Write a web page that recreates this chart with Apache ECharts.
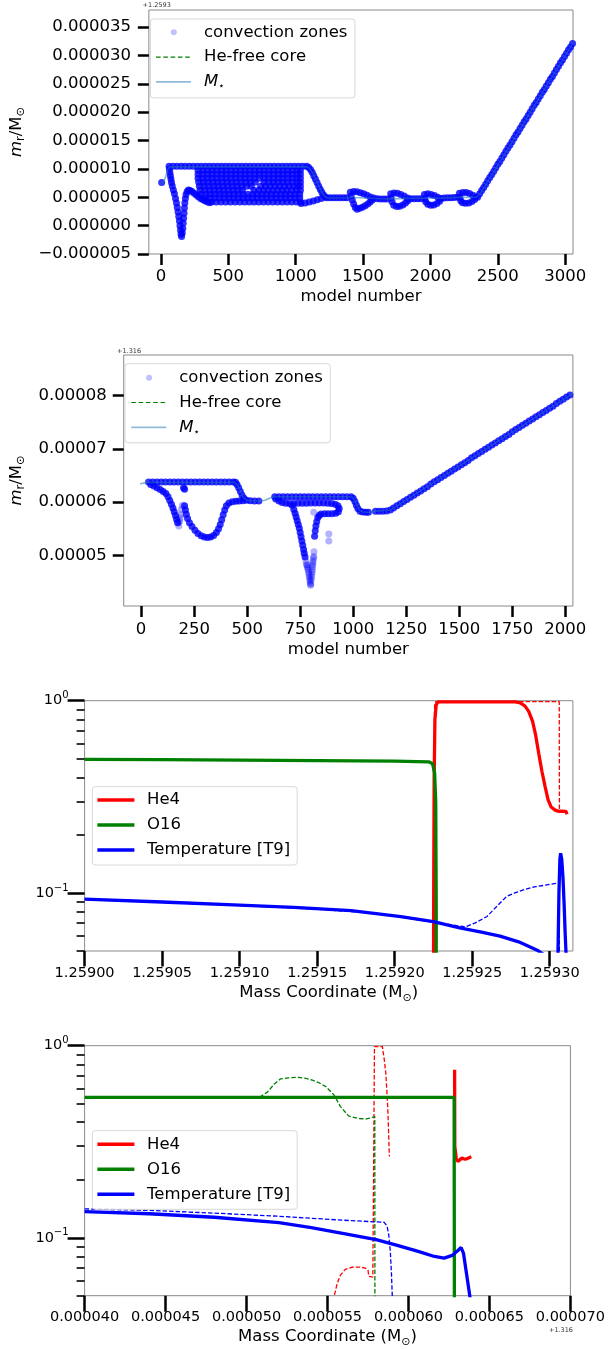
<!DOCTYPE html>
<html>
<head>
<meta charset="utf-8">
<script src="https://cdn.jsdelivr.net/npm/echarts@6/dist/echarts.min.js"></script>
<style>
  html, body { margin: 0; padding: 0; background: #fff; }
  #chart { width: 608px; height: 1349px; }
</style>
</head>
<body>
<div id="chart"></div>
<script>
// ---- tick values (mass values are offsets in 1e-6 Msun) ----
const modelTicks1 = [0, 500, 1000, 1500, 2000, 2500, 3000];
const massTicks1 = [-5, 0, 5, 10, 15, 20, 25, 30, 35];          // + 1.2593
const modelTicks2 = [0, 250, 500, 750, 1000, 1250, 1500, 1750, 2000];
const massTicks2 = [50, 60, 70, 80];                             // + 1.316
const coordTicks3 = [0, 50, 100, 150, 200, 250, 300];            // + 1.259
const coordTicks4 = [40, 45, 50, 55, 60, 65, 70];                // + 1.316
const logMajor = [0.1, 1];
const logMinor = [0.05, 0.06, 0.07, 0.08, 0.09, 0.2, 0.3, 0.4, 0.5, 0.6, 0.7, 0.8, 0.9];

// ---- panel 1: convection zones (model number, m_r - 1.2593 in 1e-6) ----
const c1Start = [[5, 7.6]];
const c1Left = [[62,10.0],[66,9.4],[70,8.8],[74,8.2],[78,7.6],[84,7.0],[92,6.3],[100,5.6],[108,4.8],[115,4.0],
  [121,3.2],[127,2.4],[132,1.6],[137,0.8],[141,0.0],[145,-0.8],[149,-1.5],[153,-1.9],[158,-1.3],[162,-0.5],
  [165,0.4],[168,1.3],[171,2.2],[174,3.1],[177,4.0],[181,4.8],[186,5.5],[194,6.0],[204,6.3],[216,6.2],
  [230,6.0],[246,5.7],[262,5.4],[278,5.1],[294,4.8],[310,4.6],[326,4.4],[342,4.2],[360,4.05]];
const c1Top = [[60,10.45],[90,10.45],[120,10.45],[150,10.45],[180,10.45],[210,10.45],[240,10.45],[270,10.45],
  [300,10.45],[330,10.45],[360,10.45],[390,10.45],[420,10.45],[450,10.45],[480,10.45],[510,10.45],[540,10.45],
  [570,10.45],[600,10.45],[630,10.45],[660,10.45],[690,10.45],[720,10.45],[750,10.45],[780,10.45],[810,10.45],
  [840,10.45],[870,10.45],[900,10.45],[930,10.45],[960,10.45],[990,10.45],[1020,10.45],[1050,10.45],[1080,10.45]];
const c1BlockY = [9.75, 9.05, 8.35, 7.65, 6.95, 6.25, 5.55, 4.85, 4.15];
const c1BlockX = [
  [275,310,345,380,415,450,485,520,555,590,625,660,695,730,765,800,835,870,905,940,975,1010,1035],
  [275,310,345,380,415,450,485,520,555,590,625,660,695,730,765,800,835,870,905,940,975,1010,1035],
  [275,310,345,380,415,450,485,520,555,590,625,660,695,730,765,800,835,870,905,940,975,1010,1035],
  [280,315,350,385,420,455,490,525,560,595,630,665,700,765,800,835,870,905,940,975,1010,1035],
  [285,320,355,390,425,460,495,530,565,600,635,670,740,775,810,845,880,915,950,985,1015,1035],
  [290,325,360,395,430,465,500,535,570,605,690,725,760,795,830,865,900,935,970,1005,1035],
  [295,330,365,400,435,470,505,540,575,610,645,680,715,750,785,820,855,890,925,960,995,1030],
  [330,365,400,435,470,505,540,575,610,645,680,715,750,785,820,855,890,925,960,995,1030],
  [375,410,445,480,515,550,585,620,655,690,725,760,795,830,865,900,935,970,1005,1035]
];
const c1Right = [[1095,10.3],[1110,9.9],[1122,9.4],[1134,8.8],[1146,8.2],[1158,7.6],[1170,7.0],[1182,6.4],
  [1194,5.9],[1206,5.4],[1220,5.05],
  [1040,3.9],[1070,4.0],[1100,4.15],[1130,4.35],[1160,4.55],[1190,4.8]];
const c1Loops = [[1230,4.9],[1255,4.9],[1280,4.9],[1305,4.9],[1330,4.9],[1355,4.9],[1380,4.9],
  [1405,5.9],[1430,6.0],[1455,5.95],[1480,5.8],[1505,5.6],[1530,5.35],[1555,5.05],[1580,4.85],
  [1412,5.2],[1420,4.5],[1430,3.8],[1442,3.2],[1456,2.9],
  [1475,3.05],[1495,3.25],[1515,3.5],[1535,3.8],[1552,4.15],[1568,4.5],
  [1605,4.75],[1630,4.7],[1655,4.7],[1680,4.7],
  [1705,5.6],[1730,5.75],[1755,5.7],[1780,5.5],[1805,5.2],[1830,4.85],
  [1708,4.9],[1715,4.2],[1728,3.6],[1750,3.35],[1772,3.4],[1795,3.65],[1815,4.0],[1832,4.4],
  [1855,4.75],[1880,4.75],[1905,4.75],[1930,4.75],
  [1955,5.5],[1980,5.6],[2005,5.5],[2030,5.3],[2055,5.0],[2078,4.8],
  [1958,4.8],[1965,4.2],[1980,3.75],[2002,3.6],[2025,3.65],[2048,3.9],[2068,4.3],
  [2100,4.85],[2125,4.9],[2150,4.9],[2175,4.95],[2200,5.0],
  [2215,5.7],[2240,5.85],[2265,5.85],[2290,5.65],[2315,5.35],[2338,5.05],
  [2218,5.0],[2225,4.4],[2238,4.05],[2260,3.95],[2285,4.0],[2308,4.25],[2328,4.6]];
const c1Ramp = [[2350,5.0],[2365,5.6],[2380,6.2],[2395,6.7],[2410,7.3],[2425,7.9],[2440,8.5],[2455,9.0],
  [2470,9.6],[2485,10.2],[2500,10.8],[2515,11.3],[2530,11.9],[2545,12.5],[2560,13.1],[2575,13.7],[2590,14.2],
  [2605,14.8],[2620,15.4],[2635,16.0],[2650,16.5],[2665,17.1],[2680,17.7],[2695,18.3],[2710,18.8],[2725,19.4],
  [2740,20.0],[2755,20.6],[2770,21.2],[2785,21.7],[2800,22.3],[2815,22.9],[2830,23.5],[2845,24.0],[2860,24.6],
  [2875,25.2],[2890,25.8],[2905,26.3],[2920,26.9],[2935,27.5],[2950,28.1],[2965,28.7],[2980,29.2],[2995,29.8],
  [3010,30.4],[3025,31.0],[3040,31.5],[3055,32.1]];
const mStar1 = [[0,7.5],[20,7.7],[35,8.6],[48,9.8],[62,10.35],[1085,10.35],[1105,10.05],[1125,9.3],[1150,8.1],
  [1175,6.8],[1198,5.7],[1218,5.05],[1240,4.88],[1400,4.9],[1420,5.1],[1440,4.95],[1600,4.78],[1700,4.72],
  [1830,4.8],[1960,4.82],[2080,4.85],[2200,4.98],[2340,5.0],[2372,5.7],[3060,32.3]];

// ---- panel 2: convection zones (model number, m_r - 1.316 in 1e-6) ----
const c2ZoneA = [[35,63.75],[55,63.75],[75,63.75],[95,63.75],[115,63.75],[135,63.75],[155,63.75],[175,63.75],
  [195,63.75],[215,63.75],[235,63.75],[255,63.75],[275,63.75],[295,63.75],[315,63.75],[335,63.75],[355,63.75],
  [375,63.75],[395,63.75],[415,63.75],[435,63.75],[445,63.7],
  [452,63.3],[460,62.7],[468,62.0],[476,61.3],[485,60.7],[497,60.35],[515,60.25],[535,60.2],[555,60.2],
  [45,63.3],[60,63.0],[75,62.7],[90,62.35],[104,62.0],[117,61.6],[127,61.0],[135,60.3],[143,59.6],[150,58.9],
  [156,58.2],[162,57.5],[167,56.8],[172,56.1],
  [200,62.7],[205,62.4],
  [205,59.3],[209,58.5],[213,57.7],[219,56.9],[228,56.1],[240,55.4],[254,54.7],[268,54.1],[283,53.7],
  [298,53.45],[313,53.35],[328,53.45],[342,53.75],[355,54.3],[365,55.0],[373,55.8],[380,56.7],[387,57.6],
  [394,58.5],[402,59.3],[414,59.85],[430,60.05],[447,60.15],[463,60.2],[480,60.25]];
const c2ZoneB = [[630,61.0],[650,61.0],[670,61.0],[690,61.0],[710,61.0],[730,61.0],[750,61.0],[770,61.0],
  [790,61.0],[810,61.0],[830,61.0],[850,61.0],[870,61.0],[890,61.0],[910,61.0],[930,61.0],[950,61.0],
  [970,61.0],[990,61.0],
  [1000,60.7],[1008,60.1],[1015,59.4],[1022,58.8],[1032,58.3],[1045,58.15],[1060,58.1],[1072,58.1],
  [635,60.6],[650,60.2],[665,59.9],[682,59.8],[700,59.75],[720,59.75],[740,59.8],[760,59.8],[780,59.8],
  [800,59.85],[820,59.85],[840,59.85],[860,59.85],[880,59.8],[898,59.75],[915,59.6],[928,59.3],[934,58.8],
  [930,58.2],[918,57.9],[900,57.8],[882,57.8],[865,57.8],[848,57.75],
  [712,59.4],[720,58.6],[726,57.9],[731,57.2],[736,56.5],[741,55.8],[746,55.1],[750,54.3],[754,53.5],
  [758,52.7],[762,51.9],[766,51.1],[769,50.4],[773,49.7],
  [818,53.6],[821,54.6],[824,55.5],[828,56.3],[833,57.1],[840,57.5],
  [1105,58.3],[1122,58.3],[1140,58.3],[1158,58.35],[1175,58.5]];
const c2Light = [[178,55.5],[182,56.4],[186,57.6],[190,58.6],[195,59.4],[176,56.2],[184,57.0],
  [777,48.9],[780,48.3],[782,48.2],[784,47.8],[786,47.6],[788,47.2],[790,46.8],[792,46.4],[793,46.0],
  [795,45.6],[796,45.2],[798,44.8],[799,44.4],[800,44.6],
  [802,45.4],[804,45.9],[805,46.4],[806,46.9],[807,47.3],[808,47.8],[809,48.2],[810,48.6],[811,49.0],[813,49.5],[814,49.8],
  [814,58.1],[815,50.7],[885,54.0],[885,52.7]];
const c2Ramp = [[1190,58.9],[1206,59.3],[1222,59.7],[1238,60.1],[1254,60.5],[1270,60.9],[1286,61.3],[1302,61.7],
  [1318,62.1],[1334,62.5],[1350,62.9],[1366,63.4],[1382,63.8],[1398,64.2],[1414,64.6],[1430,65.0],[1446,65.4],
  [1462,65.8],[1478,66.2],[1494,66.6],[1510,67.0],[1526,67.4],[1542,67.8],[1558,68.3],[1574,68.7],[1590,69.1],
  [1606,69.5],[1622,69.9],[1638,70.3],[1654,70.7],[1670,71.1],[1686,71.5],[1702,71.9],[1718,72.3],[1734,72.7],
  [1750,73.2],[1766,73.6],[1782,74.0],[1798,74.4],[1814,74.8],[1830,75.2],[1846,75.6],[1862,76.0],[1878,76.4],
  [1894,76.8],[1910,77.2],[1926,77.6],[1942,78.0],[1958,78.5],[1974,78.9],[1990,79.3],[2006,79.7],[2022,80.1],
  [2038,80.5]];
const mStar2 = [[-5,63.45],[30,63.7],[440,63.7],[455,63.2],[468,62.2],[480,61.0],[495,60.4],[515,60.25],
  [560,60.2],[585,60.35],[610,60.8],[630,61.0],[990,61.0],[1005,60.5],[1018,59.4],[1030,58.5],[1045,58.15],
  [1075,58.1],[1090,58.2],[1105,58.3],[1175,58.5],[2038,80.45]];

// ---- panel 3: profiles (mass - 1.259 in 1e-6, abundance / T9) ----
const he4Solid3 = [[225.0,0.02],[225.2,0.1],[225.5,0.4],[226.0,0.8],[226.8,0.95],[228,0.985],[278,0.985],
  [281,0.975],[284,0.94],[286.5,0.88],[289,0.78],[291,0.66],[293,0.53],[295,0.43],[297,0.36],[299,0.305],
  [301,0.28],[303.5,0.27],[306,0.266],[308,0.267],[310.5,0.266],[311.2,0.257]];
const he4Dash3 = [[224.8,0.02],[225.2,0.3],[225.8,0.95],[226.6,0.99],[306.2,0.99],[306.3,0.27],[308,0.267],[311,0.266]];
const o16Solid3 = [[0,0.496],[50,0.494],[100,0.491],[150,0.488],[200,0.485],[222,0.481],[224.5,0.47],
  [225.8,0.42],[226.5,0.3],[226.8,0.1],[226.9,0.02]];
const tempSolid3 = [[0,0.093],[50,0.0899],[96,0.0869],[135,0.0843],[172,0.081],[204,0.0755],[225,0.071],
  [242,0.066],[256,0.0627],[268,0.0597],[280,0.0558],[292,0.0505],[296,0.048],[305,0.03],
  [305.4,0.05],[306,0.1],[306.6,0.15],[307.1,0.161],[307.8,0.15],[308.6,0.12],[309.4,0.085],[310,0.062],
  [310.5,0.05],[310.8,0.04]];
const tempDash3 = [[0,0.0928],[50,0.0896],[100,0.0862],[150,0.0825],[190,0.0782],[225,0.0705],[245.8,0.0668],
  [252,0.070],[259.6,0.0756],[266,0.0855],[272.2,0.096],[278,0.1005],[284.8,0.105],[291,0.108],[297.4,0.110],
  [306.2,0.113],[306.3,0.04]];

// ---- panel 4: profiles (mass - 1.316 in 1e-6) ----
const he4Solid4 = [[62.85,0.75],[62.86,0.3],[62.95,0.258],[63.05,0.25],[63.16,0.252],[63.3,0.26],
  [63.45,0.257],[63.6,0.258],[63.88,0.264]];
const he4Dash4 = [[55.3,0.04],[55.42,0.05],[55.6,0.058],[55.8,0.064],[56.1,0.0685],[56.5,0.0703],[57.0,0.0705],
  [57.35,0.0695],[57.5,0.068],[57.55,0.063],[57.8,0.0625],[57.88,0.064],[57.9,0.99],[58.39,0.99],[58.51,0.84],
  [58.6,0.72],[58.66,0.59],[58.72,0.48],[58.76,0.38],[58.82,0.265]];
const o16Solid4 = [[40,0.539],[62.82,0.539],[62.84,0.02]];
const o16Dash4 = [[50.8,0.539],[51.3,0.575],[51.7,0.63],[52.1,0.672],[52.6,0.68],[53.2,0.685],[53.6,0.678],
  [54.05,0.663],[54.5,0.64],[54.9,0.612],[55.4,0.554],[55.8,0.482],[56.3,0.431],[56.9,0.418],[57.4,0.416],
  [57.7,0.422],[57.92,0.428],[57.93,0.02]];
const tempSolid4 = [[40,0.137],[44,0.1335],[48,0.128],[52,0.12],[54,0.113],[56.1,0.105],[58,0.098],[59.2,0.092],
  [60.6,0.085],[61.6,0.080],[62.2,0.0785],[62.7,0.081],[63.05,0.086],[63.25,0.089],[63.4,0.083],[63.55,0.068],
  [63.7,0.056],[63.8,0.049],[63.85,0.04]];
const tempDash4 = [[40,0.1415],[44,0.139],[48,0.1345],[52,0.1295],[56,0.1235],[58.5,0.1205],[58.68,0.115],
  [58.78,0.104],[58.88,0.085],[58.95,0.065],[59.0,0.05],[59.05,0.04]];

// ---------------------------------------------------------------
const FONT = 'DejaVu Sans';
const BLACK = '#000';
const FRAME = '#8a8a8a';

let c1Block = [];
c1BlockY.forEach((y, i) => c1BlockX[i].forEach((x) => c1Block.push([x, y])));

function grid(left, top, width, height) {
  return { left, top, width, height, show: true, borderColor: FRAME, borderWidth: 1 };
}

function valueAxis(gi, min, max, ticks, fmt, fontSize, margin, tickLen) {
  return {
    gridIndex: gi, type: 'value', min, max,
    axisLine: { show: false, onZero: false }, splitLine: { show: false },
    axisTick: { customValues: ticks, length: tickLen, lineStyle: { color: BLACK, width: 2.5 } },
    axisLabel: { customValues: ticks, formatter: fmt, fontSize, margin, color: BLACK, fontFamily: FONT },
  };
}

const mrName = '{i|m}{s|r}{n|/M}{s|⊙}';
const mrStyle = {
  color: BLACK, fontFamily: FONT, fontSize: 16.5,
  rich: {
    i: { fontStyle: 'italic', fontSize: 16.5, lineHeight: 22, fontFamily: FONT, color: BLACK },
    n: { fontSize: 16.5, lineHeight: 22, fontFamily: FONT, color: BLACK },
    s: { fontSize: 11.5, lineHeight: 14, verticalAlign: 'bottom', fontFamily: FONT, color: BLACK },
  },
};
const massName = 'Mass Coordinate (M{s|⊙})';
const massStyle = {
  color: BLACK, fontFamily: FONT, fontSize: 16.5, lineHeight: 22,
  rich: { s: { fontSize: 11, lineHeight: 12, verticalAlign: 'bottom', fontFamily: FONT, color: BLACK } },
};

function logAxes(gi) {
  const major = {
    gridIndex: gi, type: 'log', logBase: 10, min: 0.05, max: 1, position: 'left',
    axisLine: { show: false, onZero: false }, splitLine: { show: false },
    axisTick: { customValues: logMajor, length: 17, lineStyle: { color: BLACK, width: 2.5 } },
    axisLabel: {
      customValues: logMajor, margin: 16,
      formatter: (v) => '{b|10}{e|' + (Math.round(Math.log10(v)) === 0 ? '0' : '\u22121') + '}',
      rich: {
        b: { fontSize: 14.5, lineHeight: 20, fontFamily: FONT, color: BLACK },
        e: { fontSize: 10, lineHeight: 10, verticalAlign: 'top', fontFamily: FONT, color: BLACK },
      },
    },
  };
  const minor = {
    gridIndex: gi, type: 'log', logBase: 10, min: 0.05, max: 1, position: 'left', offset: 0,
    axisLine: { show: false, onZero: false }, splitLine: { show: false }, axisLabel: { show: false },
    axisTick: { customValues: logMinor, length: 8, lineStyle: { color: BLACK, width: 1.6 } },
  };
  return [major, minor];
}

const ICON_DOT = 'path://M0 0M43 20M14.8 10A3 3 0 1 0 20.8 10A3 3 0 1 0 14.8 10Z';
const ICON_DASH = 'path://M0 0M43 20M0 9.4h4.6v1.2h-4.6z M7.3 9.4h4.6v1.2h-4.6z M14.6 9.4h4.6v1.2h-4.6z M21.9 9.4h4.6v1.2h-4.6z M29.2 9.4h4.6v1.2h-4.6z';
const ICON_LINE = 'path://M0 0M43 20M0 9.1h35v1.8h-35z';
const ICON_THICK = 'path://M0 0M44.6 20M0 8.25h37v3.5h-37z';

function legendTop(left, top, padding) {
  return {
    left, top, orient: 'vertical', itemWidth: 43, itemHeight: 20, itemGap: 4.8, padding,
    backgroundColor: 'rgba(255,255,255,0.8)', borderColor: '#d8d8d8', borderWidth: 1, borderRadius: 3,
    selectedMode: false,
    formatter: (name) => (name === 'Mstar' ? '{i|M}{s|⋆}' : name),
    textStyle: {
      fontSize: 16.5, color: BLACK, fontFamily: FONT,
      rich: {
        i: { fontStyle: 'italic', fontSize: 16.5, lineHeight: 20, fontFamily: FONT, color: BLACK },
        s: { fontSize: 10, lineHeight: 12, verticalAlign: 'bottom', fontFamily: FONT, color: BLACK },
      },
    },
    data: [
      { name: 'convection zones', icon: ICON_DOT, itemStyle: { color: 'rgba(0,0,255,0.3)', borderWidth: 0 } },
      { name: 'He-free core', icon: ICON_DASH, itemStyle: { color: '#008000', borderWidth: 0 } },
      { name: 'Mstar', icon: ICON_LINE, itemStyle: { color: '#8fbbd9', borderWidth: 0 } },
    ],
  };
}

function legendBottom(left, top, padding) {
  return {
    left, top, orient: 'vertical', itemWidth: 44.6, itemHeight: 20, itemGap: 5, padding,
    backgroundColor: 'rgba(255,255,255,0.8)', borderColor: '#d8d8d8', borderWidth: 1, borderRadius: 3,
    selectedMode: false,
    textStyle: { fontSize: 16.5, color: BLACK, fontFamily: FONT },
    data: [
      { name: 'He4', icon: ICON_THICK, itemStyle: { color: '#ff0000', borderWidth: 0 } },
      { name: 'O16', icon: ICON_THICK, itemStyle: { color: '#008000', borderWidth: 0 } },
      { name: 'Temperature [T9]', icon: ICON_THICK, itemStyle: { color: '#0000ff', borderWidth: 0 } },
    ],
  };
}

function dots(data, xi, yi, opacity) {
  return {
    type: 'scatter', name: 'convection zones', xAxisIndex: xi, yAxisIndex: yi, data,
    symbolSize: 7, itemStyle: { color: '#0000ff', opacity }, z: 2, silent: true,
  };
}

function line(name, data, xi, yi, color, width, dashed, z) {
  return {
    type: 'line', name, xAxisIndex: xi, yAxisIndex: yi, data, symbol: 'none', silent: true,
    lineStyle: { color, width, type: dashed ? [4.5, 2] : 'solid', opacity: 1 },
    itemStyle: { color }, z,
  };
}

const chart = echarts.init(document.getElementById('chart'), null, { renderer: 'canvas' });

chart.setOption({
  animation: false,
  backgroundColor: '#fff',
  textStyle: { fontFamily: FONT },
  grid: [
    grid(142.6, 10, 430.4, 244),
    grid(116.5, 355, 456.4, 251),
    grid(84.6, 700.7, 488.3, 250.3),
    grid(84.6, 1045.7, 488.3, 250),
  ],
  xAxis: [
    Object.assign(valueAxis(0, -90, 3058, modelTicks1, (v) => String(v), 16.5, 14.5, 11), {
      name: 'model number', nameLocation: 'middle', nameGap: 31.7,
      nameTextStyle: { fontSize: 16.5, color: BLACK, fontFamily: FONT, lineHeight: 20 },
    }),
    Object.assign(valueAxis(1, -82, 2036, modelTicks2, (v) => String(v), 16.5, 15.5, 11), {
      name: 'model number', nameLocation: 'middle', nameGap: 33.3,
      nameTextStyle: { fontSize: 16.5, color: BLACK, fontFamily: FONT, lineHeight: 20 },
    }),
    Object.assign(valueAxis(2, 0, 315, coordTicks3, (v) => (1.259 + v * 1e-6).toFixed(5), 14.5, 15, 15.5), {
      name: massName, nameLocation: 'middle', nameGap: 29.7, nameTextStyle: massStyle,
    }),
    Object.assign(valueAxis(3, 40, 70, coordTicks4, (v) => (v * 1e-6).toFixed(6), 14.5, 14.3, 16), {
      name: massName, nameLocation: 'middle', nameGap: 28.3, nameTextStyle: massStyle,
    }),
  ],
  yAxis: [
    Object.assign(valueAxis(0, -5, 38, massTicks1, (v) => (v * 1e-6).toFixed(6).replace('-', '\u2212'), 16.5, 17.9, 11), {
      name: mrName, nameLocation: 'middle', nameGap: 111, nameTextStyle: mrStyle,
    }),
    Object.assign(valueAxis(1, 40.5, 87.6, massTicks2, (v) => (v * 1e-6).toFixed(5), 16.5, 17.1, 11), {
      name: mrName, nameLocation: 'middle', nameGap: 86, nameTextStyle: mrStyle,
    }),
    ...logAxes(2),
    ...logAxes(3),
  ],
  legend: [
    legendTop(150.4, 19, [3.3, 7.5, 6, 5.6]),
    legendTop(125, 363.7, [4, 7.5, 5.5, 6.3]),
    legendBottom(92.4, 786.7, [3.3, 7, 5, 5]),
    legendBottom(92.4, 1130.7, [3.6, 7, 5, 5]),
  ],
  graphic: [
    { type: 'text', left: 142.6, top: 2, style: { text: '+1.2593', fontSize: 6.5, fill: '#333', fontFamily: FONT } },
    { type: 'text', left: 117, top: 347.5, style: { text: '+1.316', fontSize: 6.5, fill: '#333', fontFamily: FONT } },
    { type: 'text', right: 35, top: 1326.5, style: { text: '+1.316', fontSize: 6.5, fill: '#333', fontFamily: FONT } },
  ],
  series: [
    // panel 1
    dots(c1Start.concat(c1Left, c1Top, c1Block, c1Right, c1Loops, c1Ramp), 0, 0, 0.8),
    line('He-free core', [], 0, 0, '#008000', 1.2, true, 3),
    Object.assign(line('Mstar', mStar1, 0, 0, '#1f77b4', 1.6, false, 4), { lineStyle: { color: '#1f77b4', width: 1.6, opacity: 0.55 } }),
    // panel 2
    dots(c2Light, 1, 1, 0.3),
    dots(c2ZoneA.concat(c2ZoneB, c2Ramp), 1, 1, 0.8),
    line('He-free core', [], 1, 1, '#008000', 1.2, true, 3),
    Object.assign(line('Mstar', mStar2, 1, 1, '#1f77b4', 1.6, false, 4), { lineStyle: { color: '#1f77b4', width: 1.6, opacity: 0.55 } }),
    // panel 3
    line('He4 dashed', he4Dash3, 2, 2, '#ff0000', 1.3, true, 3),
    line('Temperature dashed', tempDash3, 2, 2, '#0000ff', 1.3, true, 3),
    line('He4', he4Solid3, 2, 2, '#ff0000', 3.3, false, 4),
    line('O16', o16Solid3, 2, 2, '#008000', 3.3, false, 4),
    line('Temperature [T9]', tempSolid3, 2, 2, '#0000ff', 3.3, false, 4),
    // panel 4
    line('He4 dashed', he4Dash4, 3, 4, '#ff0000', 1.3, true, 3),
    line('O16 dashed', o16Dash4, 3, 4, '#008000', 1.3, true, 3),
    line('Temperature dashed', tempDash4, 3, 4, '#0000ff', 1.3, true, 3),
    line('He4', he4Solid4, 3, 4, '#ff0000', 3.3, false, 4),
    line('O16', o16Solid4, 3, 4, '#008000', 3.3, false, 4),
    line('Temperature [T9]', tempSolid4, 3, 4, '#0000ff', 3.3, false, 4),
  ],
});
</script>
</body>
</html>
